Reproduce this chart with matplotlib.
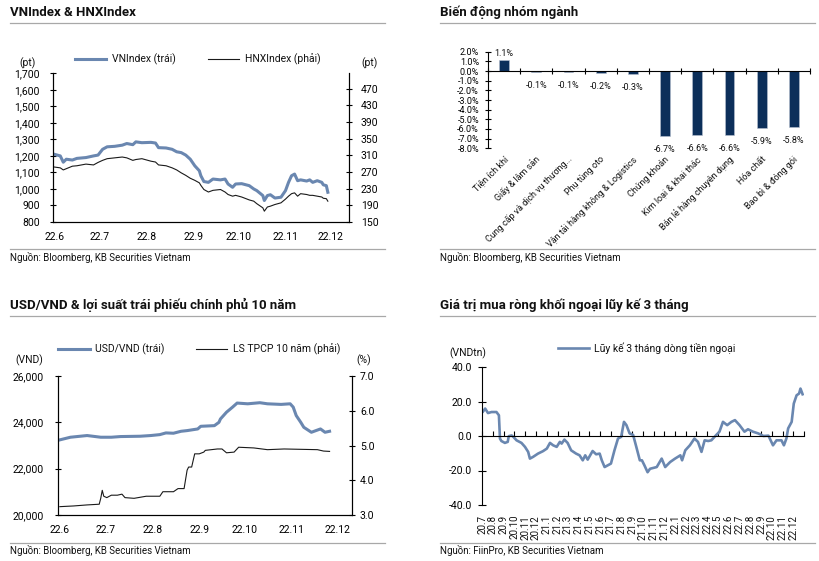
import matplotlib.pyplot as plt
import matplotlib.dates as mdates
import numpy as np
import pandas as pd
from matplotlib.lines import Line2D
from matplotlib.ticker import FuncFormatter

plt.rcParams['font.family'] = ['Roboto', 'DejaVu Sans']
plt.rcParams['text.color'] = '#111111'

BLUE = '#6a87b0'
NAVY = '#0c2f5a'
GREY = '#a8a8a8'

# ---- VNIndex & HNXIndex ----
idx_dates = ['2022-06-01', '2022-06-05', '2022-06-07', '2022-06-09', '2022-06-13', '2022-06-16',
             '2022-06-22', '2022-06-27', '2022-06-30', '2022-07-03', '2022-07-06', '2022-07-11',
             '2022-07-16', '2022-07-19', '2022-07-23', '2022-07-25', '2022-07-29', '2022-08-04',
             '2022-08-07', '2022-08-09', '2022-08-14', '2022-08-18', '2022-08-21', '2022-08-24',
             '2022-08-27', '2022-08-30', '2022-09-02', '2022-09-05', '2022-09-06', '2022-09-08',
             '2022-09-11', '2022-09-14', '2022-09-19', '2022-09-22', '2022-09-24', '2022-09-27',
             '2022-09-29', '2022-10-03', '2022-10-08', '2022-10-11', '2022-10-13', '2022-10-17',
             '2022-10-18', '2022-10-20', '2022-10-22', '2022-10-25', '2022-10-29', '2022-11-01',
             '2022-11-03', '2022-11-05', '2022-11-07', '2022-11-09', '2022-11-11', '2022-11-15',
             '2022-11-17', '2022-11-19', '2022-11-22', '2022-11-25', '2022-11-26', '2022-11-28',
             '2022-11-29']
vnindex = [1210, 1200, 1162, 1180, 1175, 1185, 1190, 1200, 1205, 1240, 1255, 1258,
           1265, 1275, 1268, 1285, 1280, 1282, 1278, 1250, 1248, 1240, 1225, 1220,
           1205, 1180, 1140, 1110, 1080, 1045, 1040, 1060, 1055, 1060, 1030, 1010,
           1030, 1032, 1020, 1000, 990, 960, 930, 960, 965, 945, 950, 990,
           1040, 1080, 1090, 1050, 1055, 1048, 1055, 1040, 1050, 1040, 1025, 1020,
           980]
hnxindex = [282, 280, 275, 278, 284, 285, 289, 287, 293, 298, 302, 304,
            306, 304, 298, 300, 302, 296, 294, 287, 285, 280, 275, 268,
            262, 255, 250, 244, 238, 228, 222, 226, 228, 222, 216, 212,
            214, 210, 203, 200, 194, 184, 176, 186, 188, 192, 196, 205,
            212, 218, 220, 212, 218, 216, 214, 214, 212, 210, 207, 206,
            200]

# ---- Sector moves ----
sectors = ['Tiện ích khí', 'Giấy & lâm sản', 'Cung cấp và dịch vụ thương...', 'Phụ tùng oto',
           'Vận tải hàng không & Logistics', 'Chứng khoán', 'Kim loại & khai thác',
           'Bán lẻ hàng chuyên dụng', 'Hóa chất', 'Bao bì & đóng gói']
sector_chg = [1.1, -0.1, -0.1, -0.2, -0.3, -6.7, -6.6, -6.6, -5.9, -5.8]

# ---- USD/VND & 10Y bond ----
fx_dates = ['2022-06-01', '2022-06-08', '2022-06-19', '2022-06-28', '2022-07-05', '2022-07-11',
            '2022-07-24', '2022-07-31', '2022-08-06', '2022-08-10', '2022-08-15', '2022-08-20',
            '2022-08-24', '2022-08-31', '2022-09-02', '2022-09-11', '2022-09-14', '2022-09-15',
            '2022-09-19', '2022-09-23', '2022-09-26', '2022-10-03', '2022-10-11', '2022-10-16',
            '2022-10-25', '2022-10-31', '2022-11-02', '2022-11-04', '2022-11-07', '2022-11-09',
            '2022-11-14', '2022-11-17', '2022-11-20', '2022-11-23', '2022-11-26']
usdvnd = [23243, 23357, 23430, 23357, 23357, 23386, 23400, 23430, 23470, 23543, 23530, 23614,
          23643, 23714, 23829, 23857, 24000, 24146, 24438, 24657, 24832, 24800, 24847, 24800,
          24774, 24800, 24657, 24292, 24000, 23786, 23571, 23643, 23714, 23571, 23614]

bond_dates = ['2022-06-01', '2022-06-10', '2022-06-19', '2022-06-27', '2022-06-28', '2022-06-29',
              '2022-06-30', '2022-07-02', '2022-07-05', '2022-07-09', '2022-07-12', '2022-07-14',
              '2022-07-20', '2022-07-28', '2022-08-06', '2022-08-08', '2022-08-15', '2022-08-18',
              '2022-08-22', '2022-08-24', '2022-08-25', '2022-08-27', '2022-08-29', '2022-09-01',
              '2022-09-04', '2022-09-05', '2022-09-13', '2022-09-16', '2022-09-19', '2022-09-24',
              '2022-09-27', '2022-10-07', '2022-10-16', '2022-10-27', '2022-11-07', '2022-11-18',
              '2022-11-22', '2022-11-26']
bond10y = [3.24, 3.26, 3.29, 3.31, 3.48, 3.71, 3.54, 3.50, 3.57, 3.57, 3.60, 3.50,
           3.48, 3.54, 3.54, 3.67, 3.67, 3.76, 3.76, 4.29, 4.38, 4.38, 4.76, 4.76,
           4.81, 4.86, 4.90, 4.90, 4.79, 4.81, 4.95, 4.93, 4.88, 4.90, 4.89, 4.88,
           4.84, 4.83]

# ---- Foreign net buying, 3M cumulative ----
flow_dates = ['2020-07-01', '2020-07-03', '2020-07-10', '2020-07-18', '2020-07-28', '2020-08-11',
              '2020-08-18', '2020-08-21', '2020-08-25', '2020-09-04', '2020-09-12', '2020-09-15',
              '2020-09-23', '2020-09-28', '2020-10-07', '2020-10-21', '2020-10-31', '2020-11-09',
              '2020-11-14', '2020-11-23', '2020-12-07', '2020-12-21', '2021-01-01', '2021-01-10',
              '2021-01-19', '2021-01-29', '2021-02-07', '2021-02-12', '2021-02-20', '2021-03-01',
              '2021-03-11', '2021-03-25', '2021-04-04', '2021-04-13', '2021-04-20', '2021-04-27',
              '2021-05-11', '2021-05-21', '2021-05-31', '2021-06-06', '2021-06-14', '2021-06-23',
              '2021-07-02', '2021-07-12', '2021-07-22', '2021-07-31', '2021-08-08', '2021-08-15',
              '2021-08-24', '2021-09-03', '2021-09-12', '2021-09-22', '2021-09-28', '2021-10-05',
              '2021-10-14', '2021-10-21', '2021-11-09', '2021-11-23', '2021-12-03', '2021-12-17',
              '2021-12-31', '2022-01-15', '2022-01-20', '2022-01-29', '2022-02-11', '2022-02-24',
              '2022-03-06', '2022-03-16', '2022-03-25', '2022-04-04', '2022-04-13', '2022-04-22',
              '2022-05-06', '2022-05-16', '2022-05-28', '2022-06-09', '2022-06-19', '2022-07-02',
              '2022-07-16', '2022-07-26', '2022-08-09', '2022-08-24', '2022-09-08', '2022-09-22',
              '2022-10-05', '2022-10-15', '2022-10-29', '2022-11-05', '2022-11-12', '2022-11-17',
              '2022-11-27', '2022-12-03', '2022-12-11', '2022-12-18', '2022-12-22', '2022-12-28']
flow3m = [13.9, 13.9, 15.9, 13.3, 13.9, 13.9,
          12.0, -1.5, -2.9, -4.0, -3.4, -0.1,
          0.3, -0.5, -2.5, -4.0, -6.3, -9.2,
          -13.1, -12.1, -10.2, -8.8, -7.3, -4.0,
          -5.4, -6.3, -3.4, -4.4, -2.1, -4.0,
          -8.3, -10.2, -11.2, -14.1, -11.2, -13.7,
          -8.7, -10.6, -10.2, -14.1, -18.0, -17.0,
          -16.0, -8.3, -1.5, -0.5, 8.2, 6.3,
          1.5, 0.6, -6.3, -14.1, -14.1, -17.0,
          -21.0, -19.0, -18.0, -13.1, -18.0, -15.1,
          -13.1, -11.2, -14.1, -8.3, -5.4, -1.5,
          -3.4, -9.2, -2.5, -2.9, -2.5, -0.5,
          2.5, 8.2, 6.3, 8.2, 9.2, 6.3,
          2.5, 3.9, 2.5, 1.5, 0.0, 0.2,
          -5.4, -2.5, -2.5, -5.4, -1.5, 4.4,
          8.2, 18.8, 23.6, 24.6, 27.5, 24.2]

fig = plt.figure(figsize=(8.19, 5.61), dpi=100)
W, H = 819, 561


def px_axes(l, t, r, b):
    return fig.add_axes([l / W, 1 - b / H, (r - l) / W, (b - t) / H])


def header(x0, x1, y_title, y_line, text):
    fig.text(x0 / W, 1 - y_title / H, text, fontsize=9.5, fontweight='bold', va='center', ha='left')
    fig.add_artist(Line2D([x0 / W, x1 / W], [1 - y_line / H] * 2, color=GREY, lw=0.9))


def footer(x0, x1, y_line, y_text, text):
    fig.add_artist(Line2D([x0 / W, x1 / W], [1 - y_line / H] * 2, color=GREY, lw=0.9))
    fig.text(x0 / W, 1 - y_text / H, text, fontsize=7, va='center', ha='left')


month_fmt = FuncFormatter(lambda v, pos: '{}.{}'.format(mdates.num2date(v).year % 100,
                                                         mdates.num2date(v).month))


def style_dual(ax, axr):
    for a in (ax, axr):
        a.spines['top'].set_visible(False)
        for s in ('left', 'right', 'bottom'):
            a.spines[s].set_linewidth(0.8)
    ax.tick_params(axis='y', direction='inout', length=5, width=0.8, labelsize=7.5)
    axr.tick_params(axis='y', direction='inout', length=5, width=0.8, labelsize=7.5)
    ax.tick_params(axis='x', length=0, labelsize=7.5, pad=7)
    ax.xaxis.set_major_locator(mdates.MonthLocator())
    ax.xaxis.set_major_formatter(month_fmt)


# ================= Panel 1 =================
header(10, 385, 12, 23.3, 'VNIndex & HNXIndex')
ax1 = px_axes(52.7, 73.3, 349, 222)
ax1r = ax1.twinx()
d1 = pd.to_datetime(idx_dates)
l1, = ax1.plot(d1, vnindex, color=BLUE, lw=2.2, label='VNIndex (trái)')
l2, = ax1r.plot(d1, hnxindex, color='#1a1a1a', lw=0.8, label='HNXIndex (phải)')
ax1.set_ylim(800, 1700)
ax1.set_yticks(np.arange(800, 1701, 100))
ax1.yaxis.set_major_formatter(FuncFormatter(lambda v, p: f'{v:,.0f}'))
ax1r.set_ylim(150, 507)
ax1r.set_yticks(np.arange(150, 471, 40))
ax1.set_xlim(pd.Timestamp('2022-05-31'), pd.Timestamp('2022-12-13'))
style_dual(ax1, ax1r)
ax1.tick_params(axis='y', pad=7)
ax1r.tick_params(axis='y', pad=6)
ax1.text(-0.085, 1.07, '(pt)', transform=ax1.transAxes, fontsize=7.5, ha='center', va='center')
ax1r.text(1.07, 1.07, '(pt)', transform=ax1.transAxes, fontsize=7.5, ha='center', va='center')
ax1.legend(handles=[l1, l2], loc='center left', bbox_to_anchor=(0.075, 1.094), ncol=2,
           frameon=False, fontsize=7.5, handlelength=3.0, handletextpad=0.55,
           columnspacing=3.1, borderpad=0, borderaxespad=0)
footer(10, 385, 249, 257.5, 'Nguồn: Bloomberg, KB Securities Vietnam')

# ================= Panel 2 =================
header(440, 815, 12, 23.3, 'Biến động nhóm ngành')
ax2 = px_axes(488, 51.7, 810, 148.3)
pos = np.arange(len(sectors))
ax2.bar(pos, sector_chg, width=0.31, color=NAVY, edgecolor='#b8c2d0', linewidth=0.4)
ax2.set_xlim(-0.5, len(sectors) - 0.5)
ax2.set_ylim(-8, 2)
ax2.set_yticks(np.arange(-8, 2.1, 1))
ax2.yaxis.set_major_formatter(FuncFormatter(lambda v, p: f'{v:.1f}%'))
ax2.spines['top'].set_visible(False)
ax2.spines['right'].set_visible(False)
ax2.spines['bottom'].set_position(('data', 0))
ax2.spines['left'].set_linewidth(0.8)
ax2.spines['bottom'].set_linewidth(0.8)
ax2.set_xticks(np.arange(-0.5, len(sectors), 1))
ax2.tick_params(axis='x', direction='inout', length=5, width=0.8, labelbottom=False)
ax2.tick_params(axis='y', direction='inout', length=5, width=0.8, labelsize=6.5, pad=4)
for x, v in zip(pos, sector_chg):
    if v >= 0:
        ax2.annotate(f'{v:.1f}%', (x, v), xytext=(0, 1.5), textcoords='offset points',
                     ha='center', va='bottom', fontsize=6.5)
    else:
        ax2.annotate(f'{v:.1f}%', (x, v), xytext=(0, -6.5), textcoords='offset points',
                     ha='center', va='top', fontsize=6.5)
    ax2.text(x + 0.08, -9.0, sectors[x], rotation=45, ha='right', va='center',
             rotation_mode='anchor', fontsize=6.5)
footer(440, 815, 249, 257.5, 'Nguồn: Bloomberg, KB Securities Vietnam')

# ================= Panel 3 =================
header(10, 385, 305, 315.7, 'USD/VND & lợi suất trái phiếu chính phủ 10 năm')
ax3 = px_axes(58.3, 376, 352.3, 515)
ax3r = ax3.twinx()
l3, = ax3.plot(pd.to_datetime(fx_dates), usdvnd, color=BLUE, lw=2.2, label='USD/VND (trái)')
l4, = ax3r.plot(pd.to_datetime(bond_dates), bond10y, color='#1a1a1a', lw=0.8,
                label='LS TPCP 10 năm (phải)')
ax3.set_ylim(20000, 26000)
ax3.set_yticks(np.arange(20000, 26001, 2000))
ax3.yaxis.set_major_formatter(FuncFormatter(lambda v, p: f'{v:,.0f}'))
ax3r.set_ylim(3, 7)
ax3r.set_yticks(np.arange(3, 7.1, 1))
ax3r.yaxis.set_major_formatter(FuncFormatter(lambda v, p: f'{v:.1f}'))
ax3.set_xlim(pd.Timestamp('2022-05-31'), pd.Timestamp('2022-12-11'))
style_dual(ax3, ax3r)
ax3.tick_params(axis='y', pad=8)
ax3r.tick_params(axis='y', pad=3)
ax3.text(-0.1, 1.11, '(VND)', transform=ax3.transAxes, fontsize=7.5, ha='center', va='center')
ax3.text(1.04, 1.11, '(%)', transform=ax3.transAxes, fontsize=7.5, ha='center', va='center')
ax3.legend(handles=[l3, l4], loc='center left', bbox_to_anchor=(0.0, 1.19), ncol=2,
           frameon=False, fontsize=7.5, handlelength=3.0, handletextpad=0.55,
           columnspacing=3.0, borderpad=0, borderaxespad=0)
footer(10, 385, 542.5, 550.5, 'Nguồn: Bloomberg, KB Securities Vietnam')

# ================= Panel 4 =================
header(440, 815, 305, 315.7, 'Giá trị mua ròng khối ngoại lũy kế 3 tháng')
ax4 = px_axes(482, 367, 804, 505)
l5, = ax4.plot(pd.to_datetime(flow_dates), flow3m, color=BLUE, lw=1.9,
               label='Lũy kế 3 tháng dòng tiền ngoại')
ax4.set_ylim(-40, 40)
ax4.set_yticks(np.arange(-40, 41, 20))
ax4.yaxis.set_major_formatter(FuncFormatter(lambda v, p: f'{v:.1f}'))
ticks4 = pd.date_range('2020-07-01', '2023-01-01', freq='MS')
ax4.set_xlim(ticks4[0], ticks4[-1])
ax4.set_xticks(ticks4)
ax4.spines['top'].set_visible(False)
ax4.spines['right'].set_visible(False)
ax4.spines['bottom'].set_position(('data', 0))
ax4.spines['left'].set_linewidth(0.8)
ax4.spines['bottom'].set_linewidth(0.8)
ax4.tick_params(axis='x', direction='in', length=3.5, width=0.8, labelbottom=False)
ax4.tick_params(axis='y', direction='inout', length=6, width=0.8, labelsize=7.5, pad=4)
for t in ticks4[:-1]:
    ax4.text(t, -0.072, f'{t.year % 100}.{t.month}', transform=ax4.get_xaxis_transform(),
             rotation=90, ha='center', va='top', fontsize=7)
ax4.text(-0.045, 1.10, '(VNDtn)', transform=ax4.transAxes, fontsize=7.5, ha='center', va='center')
ax4.legend(handles=[l5], loc='center left', bbox_to_anchor=(0.236, 1.135), frameon=False,
           fontsize=7.5, handlelength=3.0, handletextpad=0.5, borderpad=0, borderaxespad=0)
footer(440, 815, 542.5, 550.5, 'Nguồn: FiinPro, KB Securities Vietnam')

fig.savefig('out.png', dpi=100)
